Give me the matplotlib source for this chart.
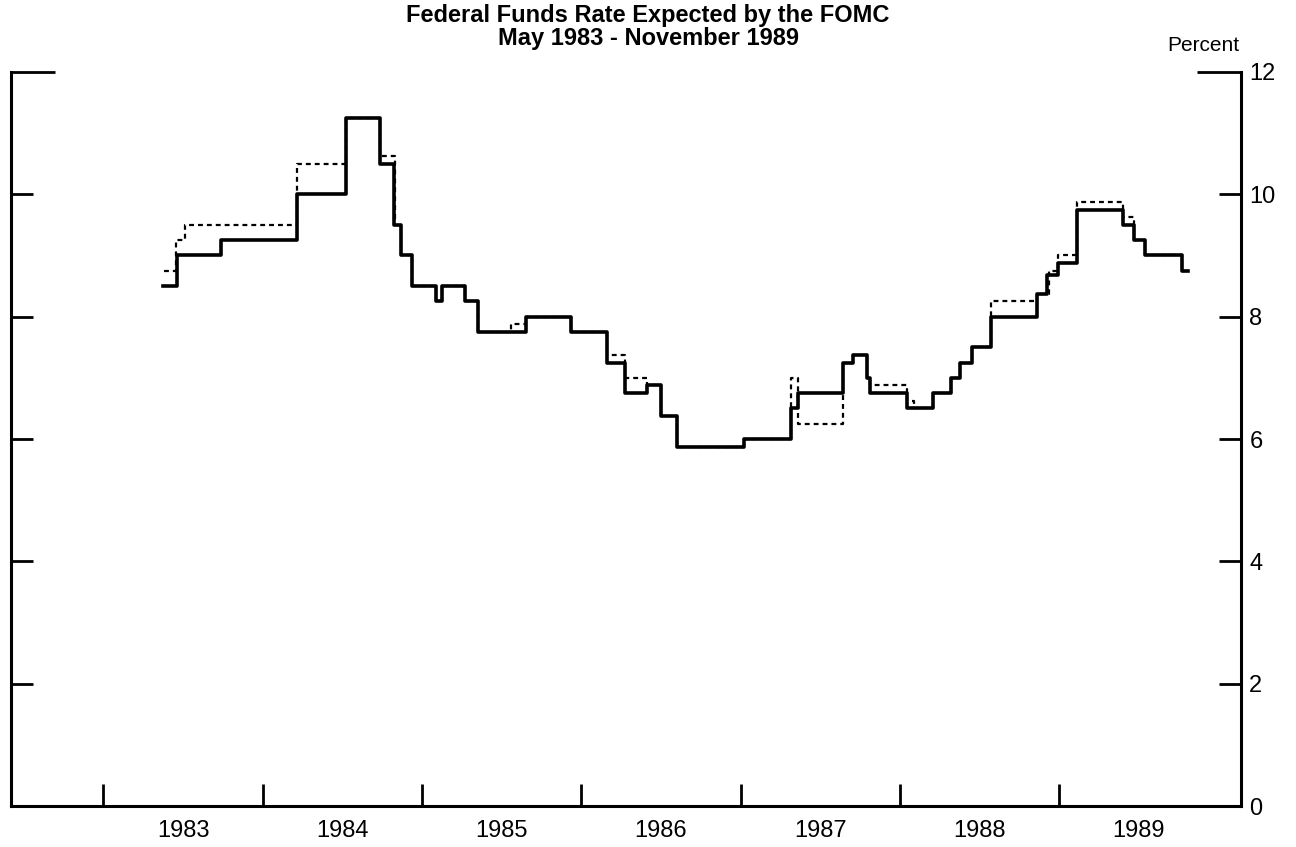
import numpy as np
import matplotlib
matplotlib.use('Agg')
import matplotlib.pyplot as plt

plt.rcParams['font.family'] = ['Liberation Sans', 'DejaVu Sans']

# Step dates (decimal years) and expected rate, percent
solid_dates = [1983.377, 1983.465, 1983.741, 1984.212, 1984.525, 1984.733,
               1984.827, 1984.871, 1984.940, 1985.090, 1985.128, 1985.272,
               1985.354, 1985.655, 1985.938, 1986.158, 1986.271, 1986.409,
               1986.503, 1986.603, 1987.024, 1987.313, 1987.357, 1987.645,
               1987.702, 1987.790, 1987.809, 1988.047, 1988.210, 1988.323,
               1988.374, 1988.449, 1988.574, 1988.863, 1988.920, 1988.989,
               1989.108, 1989.397, 1989.472, 1989.541, 1989.773, 1989.805]
solid_rates = [8.5, 9.0, 9.25, 10.0, 11.25, 10.5,
               9.5, 9.0, 8.5, 8.25, 8.5, 8.25,
               7.75, 8.0, 7.75, 7.25, 6.75, 6.875,
               6.375, 5.875, 6.0, 6.5, 6.75, 7.25,
               7.375, 7.0, 6.75, 6.5, 6.75, 7.0,
               7.25, 7.5, 8.0, 8.375, 8.6875, 8.875,
               9.75, 9.5, 9.25, 9.0, 8.75, 8.75]

dashed_dates = [1983.383, 1983.458, 1983.515, 1984.212, 1984.525, 1984.733,
                1984.833, 1984.871, 1984.940, 1985.090, 1985.128, 1985.272,
                1985.354, 1985.561, 1985.655, 1985.938, 1986.158, 1986.271,
                1986.409, 1986.503, 1986.603, 1987.024, 1987.313, 1987.357,
                1987.645, 1987.702, 1987.790, 1987.809, 1988.047, 1988.085,
                1988.210, 1988.323, 1988.374, 1988.449, 1988.574, 1988.863,
                1988.938, 1988.989, 1989.108, 1989.397, 1989.472, 1989.541,
                1989.773, 1989.805]
dashed_rates = [8.75, 9.25, 9.5, 10.5, 11.25, 10.625,
                9.5, 9.0, 8.5, 8.25, 8.5, 8.25,
                7.75, 7.875, 8.0, 7.75, 7.375, 7.0,
                6.875, 6.375, 5.875, 6.0, 7.0, 6.25,
                7.25, 7.375, 7.0, 6.875, 6.625, 6.5,
                6.75, 7.0, 7.25, 7.5, 8.25, 8.375,
                8.75, 9.0, 9.875, 9.625, 9.25, 9.0,
                8.75, 8.75]

years = [1983, 1984, 1985, 1986, 1987, 1988, 1989]
y_ticks = [0, 2, 4, 6, 8, 10, 12]

fig = plt.figure(figsize=(12.96, 8.47), dpi=100)
ax = fig.add_axes([0.0085, 0.0484, 0.949, 0.8666])

ax.step(dashed_dates, dashed_rates, where='post', color='black',
        linewidth=1.6, linestyle=(0, (2.2, 1.8)), zorder=2)
ax.step(solid_dates, solid_rates, where='post', color='black',
        linewidth=2.6, zorder=3)

ax.set_xlim(1982.42, 1990.14)
ax.set_ylim(0, 12)

for side in ['left', 'right', 'bottom']:
    ax.spines[side].set_linewidth(2.2)
ax.spines['top'].set_visible(False)

# y axis: inward ticks on both sides, labels on the right
ax.set_yticks(y_ticks)
ax.tick_params(axis='y', which='major', left=True, right=True,
               direction='in', length=16, width=2,
               labelleft=False, labelright=True, labelsize=17, pad=6)
top_tick = ax.yaxis.get_major_ticks()[-1]
top_tick.tick1line.set_markersize(32)
top_tick.tick2line.set_markersize(32)

# x axis: ticks at year starts, labels centred on the year
ax.set_xticks(years)
ax.set_xticklabels([])
ax.set_xticks([y + 0.5 for y in years], minor=True)
ax.set_xticklabels([str(y) for y in years], minor=True)
ax.tick_params(axis='x', which='major', direction='in', length=16, width=2)
ax.tick_params(axis='x', which='minor', length=0, labelsize=17, pad=10)

fig.text(0.5, 0.968, 'Federal Funds Rate Expected by the FOMC\nMay 1983 - November 1989',
         ha='center', va='center', fontsize=17, fontweight='bold', linespacing=1.0)
fig.text(0.956, 0.946, 'Percent', ha='right', va='center', fontsize=15)

fig.savefig('out.png', dpi=100)
